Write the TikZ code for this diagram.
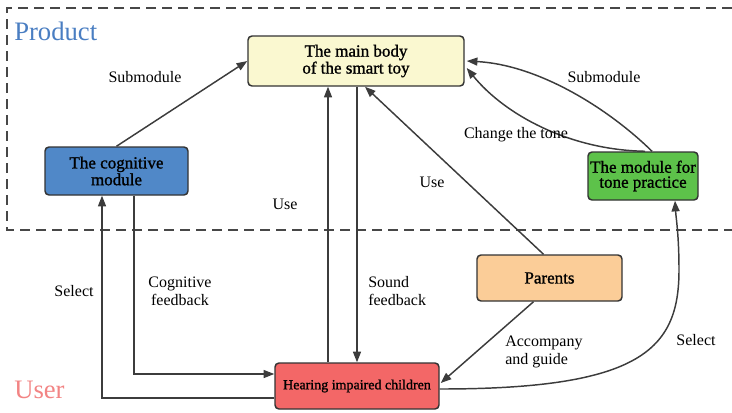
\documentclass[tikz,border=0pt]{standalone}
\usepackage{fontspec}
\setmainfont{Liberation Serif}
\newfontfamily\nodefont{Liberation Serif}[FakeBold=1.2]
\usetikzlibrary{arrows.meta,calc}

\definecolor{edgegray}{HTML}{333333}
\definecolor{linegray}{HTML}{3C3C3C}
\definecolor{framegray}{HTML}{474747}
\definecolor{toyyellow}{HTML}{FAF8D0}
\definecolor{cogblue}{HTML}{5088C8}
\definecolor{tonegreen}{HTML}{5DC24A}
\definecolor{parentorange}{HTML}{FBCD98}
\definecolor{childred}{HTML}{F36767}
\definecolor{productblue}{HTML}{4A7EC2}
\definecolor{userpink}{HTML}{F28484}

\tikzset{
  box/.style={draw=edgegray, line width=1.1pt, rounded corners=3pt, inner sep=0pt,
    align=center, text=black, font=\nodefont\fontsize{12.75}{11.25}\selectfont},
  arr/.style={draw=linegray, line width=1.1pt, -{Triangle[length=8pt,width=6pt]}},
  lbl/.style={inner sep=0pt, align=center, text=black, font=\fontsize{12}{13.5}\selectfont},
  area/.style={inner sep=0pt, anchor=base west, font=\fontsize{20}{22}\selectfont},
}

\begin{document}
\begin{tikzpicture}[x=0.75pt, y=-0.75pt]
\useasboundingbox (0,0) rectangle (732,412);

% product frame (open on the right)
\draw[framegray, line width=1.4pt, dash pattern=on 7.5pt off 4.5pt]
  (732,8) -- (7,8) -- (7,230) -- (732,230);

\node[area, text=productblue] (product) at (14,40) {Product};
\node[area, text=userpink] (user) at (14,398) {User};

% components
\node[box, fill=toyyellow, minimum width=162pt, minimum height=37.5pt] (main) at (356,61)
  {The main body\\of the smart toy};
\node[box, fill=cogblue, minimum width=107.25pt, minimum height=36pt] (cog) at (116.5,171)
  {The cognitive\\module};
\node[box, fill=tonegreen, minimum width=82.5pt, minimum height=36pt] (tone) at (643,176)
  {The module for\\tone practice};
\node[box, fill=parentorange, minimum width=108.75pt, minimum height=34.5pt] (parents) at (549.5,278)
  {Parents};
\node[box, fill=childred, minimum width=123pt, minimum height=34.5pt,
  font=\nodefont\fontsize{10.5}{12}\selectfont] (child) at (357,386)
  {Hearing impaired children};

% vertical guides for the use / sound feedback pair
\coordinate (usex) at (328,0);
\coordinate (soundx) at (357,0);
\coordinate (parx) at (365,0);

% connectors
\draw[arr] (cog.north) -- (main.west);
\draw[arr] (usex |- child.north) -- (usex |- main.south);
\draw[arr] (soundx |- main.south) -- (soundx |- child.north);
\draw[arr] ($(parents.north)+(-6,0)$) -- (parx |- main.south);
\draw[arr] ($(parents.south)+(-16,0)$) -- ($(child.east)+(1,-3)$);
\draw[arr] ($(tone.north)+(9,0)$) .. controls (610,110) and (540,65) .. ($(main.east)+(2,0)$);
\draw[arr] ($(tone.north)+(2,0)$) .. controls (570,150) and (505,115) .. ($(main.east)+(2,7)$);
\draw[arr] ($(cog.south)+(17.5,0)$) |- ($(child.west)+(0,-12)$);
\draw[arr] ($(child.west)+(0,12)$) -| ($(cog.south)+(-14.5,0)$);
\draw[arr] ($(child.east)+(0,3)$) .. controls (640,389) and (679,350) .. (679,270)
  .. controls (679,235) and (676,218) .. ($(tone.south)+(32,0)$);

% connector labels
\node[lbl] (l1) at (145,77) {Submodule};
\node[lbl] (l2) at (604,77) {Submodule};
\node[lbl] (l3) at (516,135) {Change the tone};
\node[lbl] (l4) at (285,204) {Use};
\node[lbl] (l5) at (432,182) {Use};
\node[lbl] (l6) at (74,291) {Select};
\node[lbl] (l7) at (180,291) {Cognitive\\feedback};
\node[lbl, align=left, anchor=west] (l8) at (368,291) {Sound\\feedback};
\node[lbl, align=left, anchor=west] (l9) at (505,352) {Accompany\\and guide};
\node[lbl] (l10) at (696,340) {Select};
\end{tikzpicture}
\end{document}
